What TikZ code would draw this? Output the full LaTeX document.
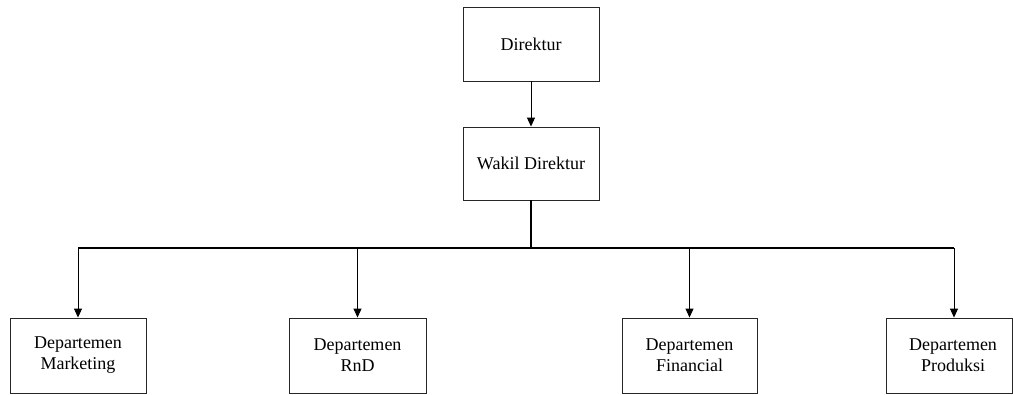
\documentclass[tikz,border=0pt]{standalone}
\usepackage{fontspec}
\setmainfont{Liberation Serif}
\usetikzlibrary{arrows.meta}
\begin{document}
\begin{tikzpicture}[x=1pt,y=-1pt,
  box/.style={draw=black!85,line width=0.9pt,minimum width=136pt,minimum height=74pt,
    align=center,inner sep=0pt,font=\fontsize{18}{21}\selectfont},
  conn/.style={draw=black,line width=0.9pt,-{Triangle[width=8pt,length=9pt]}},
  bus/.style={draw=black,line width=1.2pt}]
\useasboundingbox (0,0) rectangle (1013,394);
\node[box] (dir) at (531,44) {Direktur};
\node[box,minimum height=73pt] (wak) at (531,163.5) {Wakil Direktur};
\node[box,minimum height=75pt] (mkt) at (78,355.5) {Departemen\\Marketing};
\node[box,minimum width=137pt,minimum height=75pt] (rnd) at (357.5,355.5) {Departemen\\RnD};
\node[box,minimum width=135pt,minimum height=75pt] (fin) at (689.5,355.5) {Departemen\\Financial};
\node[box,minimum width=126pt,minimum height=75pt,text width=126pt,xshift=0pt] (prd) at (949,355.5) {\hspace*{8pt}Departemen\\\hspace*{8pt}Produksi};
\coordinate (j) at (531,248);
\coordinate (bl) at (78,248);
\coordinate (br) at (954,248);
\draw[conn] (dir) -- (wak);
\draw[line width=1.6pt] (wak.south) -- (j);
\draw[bus] (bl) -- (br);
\draw[conn] (bl) -- (mkt.north);
\draw[conn] (357.5,248) -- (rnd.north);
\draw[conn] (689.5,248) -- (fin.north);
\draw[conn] (br) -- (br |- prd.north);
\end{tikzpicture}
\end{document}
